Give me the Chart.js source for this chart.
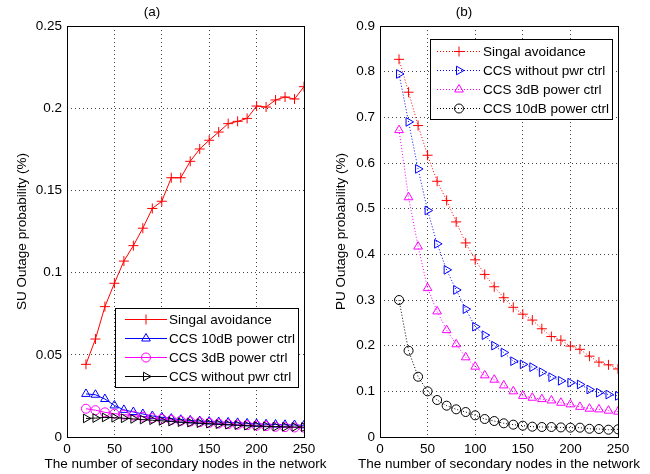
<!DOCTYPE html>
<html>
<head>
<meta charset="utf-8">
<script src="https://cdn.jsdelivr.net/npm/chart.js@4.4.1/dist/chart.umd.min.js"></script>
<style>
  body { margin: 0; background: #fff; }
  #wrap { position: relative; width: 650px; height: 474px; background: #fff; }
  canvas { position: absolute; top: 0; }
</style>
</head>
<body>
<div id="wrap">
  <canvas id="graficoSU" width="345" height="474" style="left:0px"></canvas>
  <canvas id="graficoPU" width="340" height="474" style="left:310px"></canvas>
</div>
<script>
const nos = [20, 30, 40, 50, 60, 70, 80, 90, 100, 110, 120, 130, 140, 150, 160, 170, 180, 190, 200, 210, 220, 230, 240, 250];

// (a) SU outage
const suEvitar = [0.0442, 0.0596, 0.0793, 0.0935, 0.107, 0.1164, 0.127, 0.139, 0.1434, 0.1577, 0.1577, 0.1677, 0.1752, 0.1805, 0.1855, 0.1906, 0.192, 0.1938, 0.2013, 0.2007, 0.205, 0.2068, 0.2056, 0.2131];
const su10dB = [0.0262, 0.0257, 0.0231, 0.0192, 0.0165, 0.0152, 0.014, 0.0128, 0.012, 0.0112, 0.0105, 0.0101, 0.0097, 0.0094, 0.0091, 0.0089, 0.0086, 0.0083, 0.008, 0.0078, 0.0076, 0.0074, 0.0073, 0.0071];
const su3dB = [0.0172, 0.0163, 0.015, 0.0142, 0.0136, 0.013, 0.0123, 0.0115, 0.011, 0.0104, 0.0099, 0.0094, 0.009, 0.0086, 0.0082, 0.0078, 0.0075, 0.0072, 0.0069, 0.0066, 0.0062, 0.006, 0.0058, 0.0057];
const suSemCtrl = [0.0113, 0.0115, 0.0119, 0.0117, 0.0114, 0.011, 0.0106, 0.0102, 0.0098, 0.0094, 0.009, 0.0087, 0.0084, 0.0081, 0.0078, 0.0075, 0.0072, 0.0069, 0.0067, 0.0065, 0.0063, 0.0062, 0.0061, 0.006];

// (b) PU outage
const puEvitar = [0.827, 0.755, 0.682, 0.617, 0.56, 0.518, 0.471, 0.425, 0.388, 0.356, 0.329, 0.305, 0.284, 0.269, 0.256, 0.237, 0.22, 0.212, 0.199, 0.192, 0.177, 0.164, 0.158, 0.149];
const puSemCtrl = [0.795, 0.69, 0.587, 0.496, 0.423, 0.366, 0.322, 0.28, 0.2415, 0.223, 0.2, 0.185, 0.166, 0.159, 0.153, 0.142, 0.131, 0.123, 0.119, 0.115, 0.104, 0.097, 0.093, 0.09];
const pu3dB = [0.672, 0.525, 0.417, 0.326, 0.275, 0.234, 0.203, 0.1745, 0.154, 0.135, 0.1255, 0.113, 0.1, 0.09, 0.086, 0.083, 0.08, 0.075, 0.0715, 0.066, 0.062, 0.0605, 0.0577, 0.0555];
const pu10dB = [0.3, 0.189, 0.132, 0.1, 0.081, 0.0686, 0.0606, 0.0547, 0.0474, 0.0394, 0.035, 0.03, 0.027, 0.0248, 0.0226, 0.0219, 0.0219, 0.021, 0.0204, 0.0204, 0.018, 0.0175, 0.016, 0.0168];

const tituloX = 'The number of secondary nodes in the network';
const fonte = 'Liberation Sans, Arial, Helvetica, sans-serif';
const tam = 13.5;

function serie(label, valores, cor, estilo, rot, raio, tracejado, ordem) {
  return {
    label,
    data: nos.map((x, i) => ({ x, y: valores[i] })),
    borderColor: cor,
    backgroundColor: 'rgba(0,0,0,0)',
    borderWidth: 1,
    borderDash: tracejado ? [1, 2] : [],
    pointStyle: estilo,
    rotation: rot,
    pointRadius: raio,
    pointBorderWidth: 1,
    pointBorderColor: cor,
    pointBackgroundColor: 'rgba(0,0,0,0)',
    tension: 0,
    order: ordem
  };
}

// moldura, titulo do eixo x e legenda dentro da area
function pluginMoldura(legenda) {
  return {
    id: 'moldura',
    afterDraw(chart) {
      const ctx = chart.ctx;
      const a = chart.chartArea;
      ctx.save();
      ctx.strokeStyle = '#000';
      ctx.lineWidth = 1;
      ctx.setLineDash([]);
      ctx.strokeRect(Math.round(a.left) + 0.5, Math.round(a.top) + 0.5, Math.round(a.right - a.left), Math.round(a.bottom - a.top));

      ctx.fillStyle = '#000';
      ctx.font = tam + 'px ' + fonte;
      ctx.textAlign = 'center';
      ctx.textBaseline = 'middle';
      ctx.fillText(tituloX, (a.left + a.right) / 2, 464);

      const L = legenda;
      ctx.fillStyle = '#fff';
      ctx.fillRect(L.x, L.y, L.w, L.h);
      ctx.strokeRect(L.x + 0.5, L.y + 0.5, L.w, L.h);
      const ds = chart.data.datasets;
      L.itens.forEach((idx, r) => {
        const d = ds[idx];
        const y = L.linhas[r];
        ctx.strokeStyle = d.borderColor;
        ctx.lineWidth = 1;
        ctx.setLineDash(d.borderDash);
        ctx.beginPath();
        ctx.moveTo(L.l1, y + 0.5);
        ctx.lineTo(L.l2, y + 0.5);
        ctx.stroke();
        ctx.setLineDash([]);
        ctx.fillStyle = 'rgba(0,0,0,0)';
        Chart.helpers.drawPoint(ctx, {
          pointStyle: d.pointStyle, rotation: d.rotation,
          radius: d.pointRadius, borderWidth: 1
        }, (L.l1 + L.l2) / 2, y + 0.5);
        ctx.fillStyle = '#000';
        ctx.font = tam + 'px ' + fonte;
        ctx.textBaseline = 'middle';
        ctx.textAlign = 'left';
        ctx.fillText(d.label, L.tx, y + 1);
      });
      ctx.restore();
    }
  };
}

function opcoes(titulo, yTitulo, yMax, yPasso, yLargura, yPad, dir) {
  return {
    responsive: false,
    animation: false,
    layout: { padding: { left: 0, right: dir, top: 0, bottom: 0 } },
    plugins: {
      legend: { display: false },
      tooltip: { enabled: false },
      title: {
        display: true, text: titulo, color: '#000',
        font: { family: fonte, size: tam, weight: 'normal' },
        padding: { top: 4, bottom: 5.8 }
      }
    },
    scales: {
      x: {
        type: 'linear', min: 0, max: 250,
        ticks: { stepSize: 50, color: '#000', padding: 4, font: { family: fonte, size: tam } },
        grid: { color: '#444', drawTicks: false },
        border: { display: false, dash: [1, 3] },
        afterFit(s) { s.height = 37; }
      },
      y: {
        type: 'linear', min: 0, max: yMax,
        ticks: {
          stepSize: yPasso, color: '#000', padding: 5, font: { family: fonte, size: tam },
          callback: v => String(+v.toFixed(2))
        },
        grid: { color: '#444', drawTicks: false },
        border: { display: false, dash: [1, 3] },
        title: {
          display: true, text: yTitulo, color: '#000',
          font: { family: fonte, size: tam }, padding: { top: yPad, bottom: 0 }
        },
        afterFit(s) { s.width = yLargura; }
      }
    }
  };
}

new Chart(document.getElementById('graficoSU').getContext('2d'), {
  type: 'line',
  data: {
    datasets: [
      serie('Singal avoidance', suEvitar, '#ff0000', 'cross', 0, 5, false, 4),
      serie('CCS 10dB power ctrl', su10dB, '#0000ff', 'triangle', 0, 5, false, 3),
      serie('CCS 3dB power ctrl', su3dB, '#ff00ff', 'circle', 0, 4.5, false, 2),
      serie('CCS without pwr ctrl', suSemCtrl, '#000000', 'triangle', 90, 5, false, 1)
    ]
  },
  options: opcoes('(a)', 'SU Outage probability (%)', 0.25, 0.05, 67, 14, 41),
  plugins: [pluginMoldura({
    x: 115, y: 308, w: 183, h: 79, itens: [0, 1, 2, 3],
    linhas: [319, 338, 357, 376], l1: 125, l2: 167, tx: 169
  })]
});

new Chart(document.getElementById('graficoPU').getContext('2d'), {
  type: 'line',
  data: {
    datasets: [
      serie('Singal avoidance', puEvitar, '#ff0000', 'cross', 0, 5, true, 4),
      serie('CCS without pwr ctrl', puSemCtrl, '#0000ff', 'triangle', 90, 5, true, 3),
      serie('CCS 3dB power ctrl', pu3dB, '#ff00ff', 'triangle', 0, 5, true, 2),
      serie('CCS 10dB power ctrl', pu10dB, '#000000', 'circle', 0, 4.5, true, 1)
    ]
  },
  options: opcoes('(b)', 'PU Outage probability (%)', 0.9, 0.1, 70, 23, 32),
  plugins: [pluginMoldura({
    x: 120, y: 39, w: 182, h: 80, itens: [0, 1, 2, 3],
    linhas: [51, 70, 89, 108], l1: 127, l2: 171, tx: 173
  })]
});
</script>
</body>
</html>
